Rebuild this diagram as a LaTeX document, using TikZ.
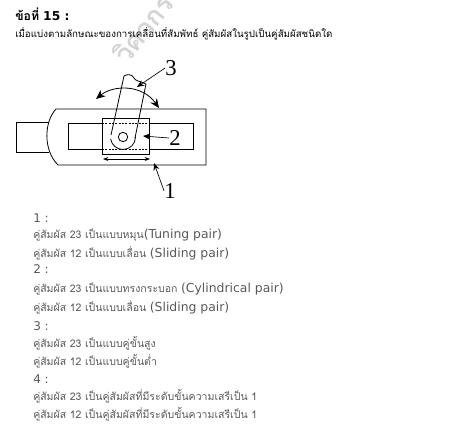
\documentclass[tikz,border=0pt]{standalone}
\usepackage{fontspec}
\setmainfont{DejaVu Sans}
\newfontfamily\thaifont[Script=Thai]{Loma}
\newfontfamily\numfont{Liberation Serif}
\usetikzlibrary{arrows.meta}
\definecolor{anstext}{gray}{0.35}
\tikzset{
  part/.style={line width=0.6pt},
  pointer/.style={line width=0.5pt,-{Stealth[length=5.5pt,width=4.5pt]}},
  partno/.style={font=\numfont\fontsize{17}{17}\selectfont,inner sep=0pt},
  headtext/.style={anchor=base west,inner sep=0pt},
  choicenum/.style={anchor=base west,inner sep=0pt,text=anstext,font=\fontsize{9}{9}\selectfont},
  choicetext/.style={anchor=base west,inner sep=0pt,text=anstext,font=\thaifont\fontsize{7.9}{9}\selectfont},
}
\newcommand{\en}[1]{{\rmfamily\fontsize{9.3}{9}\selectfont #1}}
\begin{document}
\begin{tikzpicture}[x=0.75pt,y=-0.75pt]
  \useasboundingbox (0,0) rectangle (468,428);
  % watermark
  \node[inner sep=0pt,rotate=52,text=black!17,font=\bfseries\thaifont\fontsize{20}{20}\selectfont] (mark) at (143,28) {วิศวกร};
  % heading
  \node[headtext,font=\bfseries\thaifont\fontsize{9.2}{9}\selectfont] (title) at (15,21) {ข้อที่ {\rmfamily\bfseries 15 :}};
  \node[headtext,font=\thaifont\fontsize{7.3}{9}\selectfont] (question) at (15,38) {เมื่อแบ่งตามลักษณะของการเคลื่อนที่สัมพัทธ์ คู่สัมผัสในรูปเป็นคู่สัมผัสชนิดใด};
  % base link
  \draw[part] (49,122) -- (16,122) -- (16,152) -- (49,152);
  \draw[part] (58,165) -- (206,165) -- (206,109) -- (56,109)
     .. controls (44,122) and (43,150) .. (58,165);
  % slot
  \draw[part] (68,123.5) rectangle (193,149);
  % slider
  \draw[part,fill=white] (102,118.5) rectangle (149,154);
  \draw[dash pattern=on 1.5pt off 1pt,line width=0.6pt] (102,123.5) -- (149,123.5) (102,149) -- (149,149);
  % lever
  \draw[part] (111,135) -- (124,76) .. controls (127,74) and (132,74) .. (134,78)
     .. controls (135,81) and (140,81) .. (146,84) -- (135,138);
  \draw[part] (135.5,137) arc (0:170:12.5);
  \draw[part] (123,137) circle (4.7);
  % arcs and arrows
  \draw[part,{Stealth[length=7pt,width=6pt]}-{Stealth[length=7pt,width=6pt]}] (96,99) .. controls (113,85) and (142,84) .. (159,108);
  \draw[line width=0.5pt,{Stealth[length=4pt,width=3pt]}-{Stealth[length=4pt,width=3pt]}] (103,159) -- (150,159);
  % labels
  \node[partno] (three) at (171,68) {3};
  \node[partno] (two) at (175,138) {2};
  \node[partno] (one) at (170,191) {1};
  \coordinate (tipthree) at (137,87);
  \coordinate (tiptwo) at (143,136);
  \coordinate (tipone) at (154,163);
  \draw[pointer] (three.west) -- (tipthree);
  \draw[pointer] (two.west) -- (tiptwo);
  \draw[pointer] (one.west) -- (tipone);
  % choices
  \node[choicenum] (c1) at (33,222) {1 :};
  \node[choicetext] (c1a) at (33,238) {คู่สัมผัส 23 เป็นแบบหมุน\en{(Tuning pair)}};
  \node[choicetext] (c1b) at (33,257) {คู่สัมผัส 12 เป็นแบบเลื่อน \en{(Sliding pair)}};
  \node[choicenum] (c2) at (33,273) {2 :};
  \node[choicetext] (c2a) at (33,292) {คู่สัมผัส 23 เป็นแบบทรงกระบอก \en{(Cylindrical pair)}};
  \node[choicetext] (c2b) at (33,311) {คู่สัมผัส 12 เป็นแบบเลื่อน \en{(Sliding pair)}};
  \node[choicenum] (c3) at (33,330) {3 :};
  \node[choicetext] (c3a) at (33,347) {คู่สัมผัส 23 เป็นแบบคู่ขั้นสูง};
  \node[choicetext] (c3b) at (33,365) {คู่สัมผัส 12 เป็นแบบคู่ขั้นต่ำ};
  \node[choicenum] (c4) at (33,383) {4 :};
  \node[choicetext] (c4a) at (33,400) {คู่สัมผัส 23 เป็นคู่สัมผัสที่มีระดับขั้นความเสรีเป็น 1};
  \node[choicetext] (c4b) at (33,418) {คู่สัมผัส 12 เป็นคู่สัมผัสที่มีระดับขั้นความเสรีเป็น 1};
\end{tikzpicture}
\end{document}
